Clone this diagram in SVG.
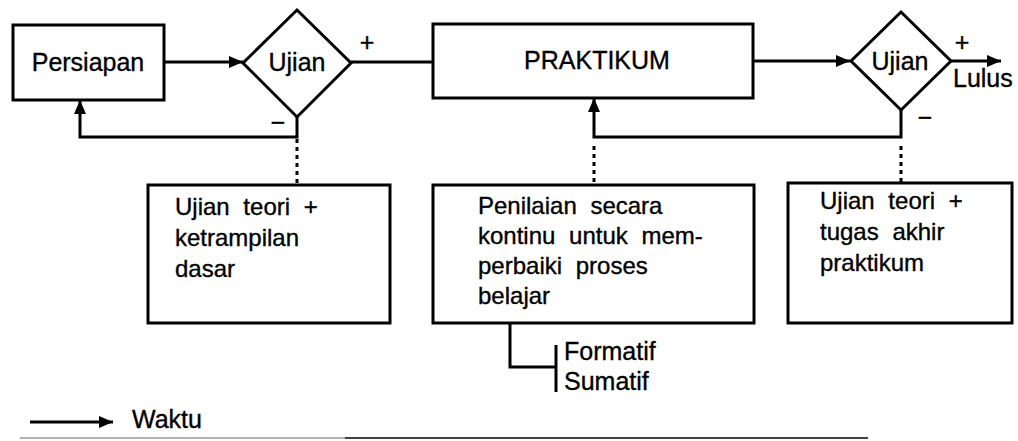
<svg xmlns="http://www.w3.org/2000/svg" width="1018" height="441" viewBox="0 0 1018 441">
  <style>
    .box { fill: #fff; stroke: #000; stroke-width: 3; }
    .line { fill: none; stroke: #000; stroke-width: 3; }
    .dot { fill: none; stroke: #000; stroke-width: 3; stroke-dasharray: 4 4; }
    text { font-family: "Liberation Sans", Arial, sans-serif; fill: #000; stroke: #000; stroke-width: 0.35; }
    .lbl { font-size: 25px; }
    .mid { text-anchor: middle; }
    .body { font-size: 24px; word-spacing: 7px; }
  </style>
  <defs>
    <marker id="arrow" markerUnits="userSpaceOnUse" markerWidth="16" markerHeight="14" refX="14" refY="6" orient="auto">
      <path d="M0,0 L14,6 L0,12 Z" fill="#000"/>
    </marker>
  </defs>

  <rect width="1018" height="441" fill="#fff"/>

  <!-- connectors -->
  <g id="connectors">
    <line class="line" x1="164" y1="62" x2="243" y2="62" marker-end="url(#arrow)"/>
    <line class="line" x1="351" y1="62" x2="433" y2="62"/>
    <line class="line" x1="753" y1="61" x2="850" y2="61" marker-end="url(#arrow)"/>
    <line class="line" x1="951" y1="61" x2="1001" y2="61" marker-end="url(#arrow)"/>
    <path class="line" d="M297 117 V137 H80 V100" marker-end="url(#arrow)"/>
    <path class="line" d="M901 110 V137 H594 V98" marker-end="url(#arrow)"/>
    <line class="dot" x1="297" y1="139" x2="297" y2="184"/>
    <line class="dot" x1="594" y1="146" x2="594" y2="184"/>
    <line class="dot" x1="901" y1="146" x2="901" y2="182"/>
    <path class="line" d="M510 323 V367 H556"/>
    <line class="line" x1="556" y1="345" x2="556" y2="392"/>
    <text class="lbl mid" x="367" y="51">+</text>
    <text class="lbl mid" x="278" y="131">−</text>
    <text class="lbl mid" x="962" y="51">+</text>
    <text class="lbl mid" x="925" y="126">−</text>
    <text class="lbl" x="953" y="87">Lulus</text>
  </g>

  <g id="persiapan">
    <rect class="box" x="13" y="25" width="151" height="75"/>
    <text class="lbl mid" x="88" y="71" font-size="26">Persiapan</text>
  </g>

  <g id="ujian-1">
    <polygon class="box" points="297,10 351,63 297,117 243,63"/>
    <text class="lbl mid" x="297" y="71">Ujian</text>
  </g>

  <g id="praktikum">
    <rect class="box" x="433" y="24" width="320" height="74"/>
    <text class="lbl mid" x="597" y="69">PRAKTIKUM</text>
  </g>

  <g id="ujian-2">
    <polygon class="box" points="901,12 951,61 901,110 851,61"/>
    <text class="lbl mid" x="900" y="70">Ujian</text>
  </g>

  <g id="note-dasar">
    <rect class="box" x="148" y="185" width="242" height="138"/>
    <text class="body" x="175" y="215">Ujian teori +</text>
    <text class="body" x="175" y="246">ketrampilan</text>
    <text class="body" x="175" y="277">dasar</text>
  </g>

  <g id="note-kontinu">
    <rect class="box" x="433" y="185" width="321" height="138"/>
    <text class="body" x="478" y="214">Penilaian secara</text>
    <text class="body" x="478" y="244">kontinu untuk mem-</text>
    <text class="body" x="478" y="274">perbaiki proses</text>
    <text class="body" x="478" y="304">belajar</text>
  </g>

  <g id="note-akhir">
    <rect class="box" x="788" y="183" width="224" height="140"/>
    <text class="body" x="820" y="209">Ujian teori +</text>
    <text class="body" x="820" y="240">tugas akhir</text>
    <text class="body" x="820" y="271">praktikum</text>
  </g>

  <g id="jenis-penilaian">
    <text class="lbl" x="564" y="360">Formatif</text>
    <text class="lbl" x="564" y="390">Sumatif</text>
  </g>

  <g id="legend">
    <line class="line" stroke-width="2.5" x1="30" y1="422" x2="113" y2="422" marker-end="url(#arrow)"/>
    <text class="lbl" x="132" y="428">Waktu</text>
  </g>

  <!-- rule along the foot of the figure -->
  <line x1="20" y1="438" x2="345" y2="438" stroke="#999" stroke-width="1.5"/>
  <line x1="345" y1="438" x2="868" y2="438" stroke="#000" stroke-width="1.5"/>
</svg>
